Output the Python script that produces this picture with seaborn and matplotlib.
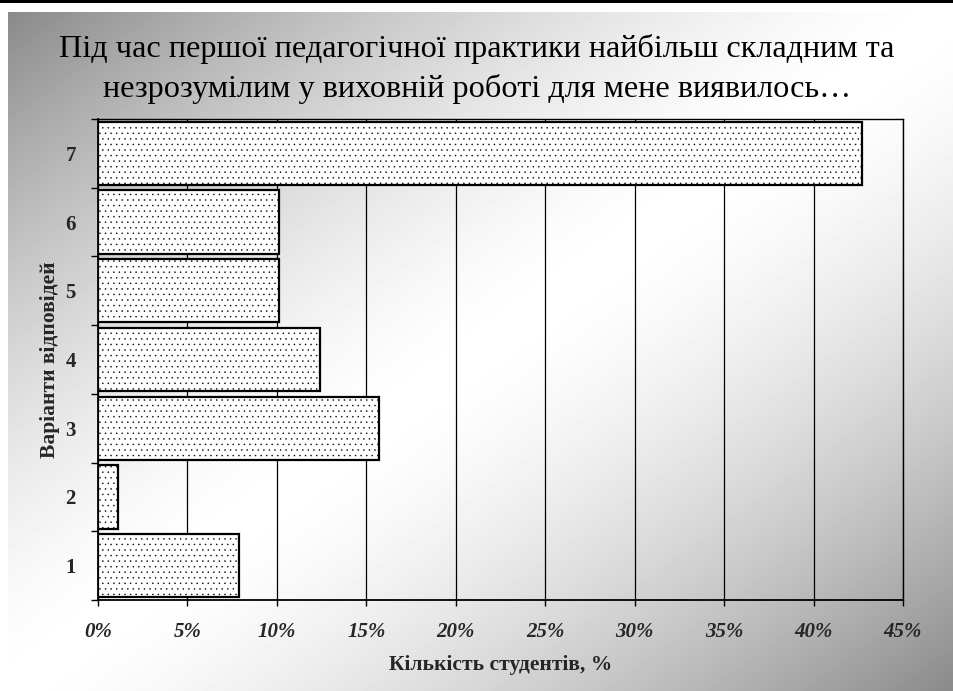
import numpy as np
import pandas as pd
import matplotlib
matplotlib.use('Agg')
import matplotlib.pyplot as plt
from matplotlib.patches import Rectangle
import seaborn as sns

categories = ['7', '6', '5', '4', '3', '2', '1']
values = [42.7, 10.1, 10.1, 12.4, 15.7, 1.1, 7.9]
xticks = [0, 5, 10, 15, 20, 25, 30, 35, 40, 45]
xticklabels = ['0%', '5%', '10%', '15%', '20%', '25%', '30%', '35%', '40%', '45%']
title = ('Під час першої педагогічної практики найбільш складним та\n'
         'незрозумілим у виховній роботі для мене виявилось…')
xlabel = 'Кількість студентів, %'
ylabel = 'Варіанти відповідей'

sns.set_theme(style='white')
plt.rcParams['font.family'] = ['Liberation Serif', 'DejaVu Serif']
plt.rcParams['hatch.color'] = '#555555'
plt.rcParams['hatch.linewidth'] = 0.3

W, H = 954, 691
fig = plt.figure(figsize=(W / 100, H / 100), dpi=100)
fig.patch.set_facecolor('white')

# gradient background
bw, bh = 946, 679
bg = fig.add_axes([8 / W, 0, bw / W, bh / H], zorder=0)
yy, xx = np.mgrid[0:bh, 0:bw]
t = (xx / (bw - 1) + yy / (bh - 1)) / 2
v = 1 - 0.46 * np.abs(2 * t - 1) ** 1.5
bg.imshow(v, cmap='gray', vmin=0, vmax=1, aspect='auto', interpolation='bilinear')
bg.axis('off')
fig.add_artist(Rectangle((0, 1 - 3 / H), 1, 3 / H, transform=fig.transFigure,
                         facecolor='black', edgecolor='none'))

ax = fig.add_axes([98 / W, 91 / H, 805 / W, 481 / H], zorder=1)
ax.patch.set_alpha(0)
df = pd.DataFrame({'cat': categories, 'val': values})
sns.barplot(data=df, x='val', y='cat', order=categories, orient='h',
            color='white', saturation=1, edgecolor='black', linewidth=1.6,
            width=0.92, ax=ax)
for p in ax.patches:
    p.set_hatch('...')

ax.set_xlim(0, 45)
ax.set_ylim(6.5, -0.5)
ax.set_axisbelow(True)
ax.xaxis.grid(True, color='black', linewidth=0.9)
ax.yaxis.grid(False)
for s in ax.spines.values():
    s.set_color('black')
    s.set_linewidth(1.0)
ax.spines['left'].set_linewidth(1.3)
ax.spines['bottom'].set_linewidth(1.3)

ax.set_xticks(xticks)
ax.set_xticklabels(xticklabels, fontsize=15, fontweight='bold', fontstyle='italic')
ax.tick_params(axis='x', which='major', bottom=True, length=4, width=1,
               color='black', direction='out', pad=12)
ax.set_yticks(range(len(categories)))
ax.set_yticklabels(categories, fontsize=15, fontweight='bold')
ax.set_yticks(np.arange(-0.5, len(categories), 1.0), minor=True)
ax.tick_params(axis='y', which='major', left=True, length=0, pad=16)
ax.tick_params(axis='y', which='minor', left=True, length=5, width=1,
               color='black', direction='out')

ax.set_xlabel(xlabel, fontsize=15.5, fontweight='bold', labelpad=9)
ax.set_ylabel(ylabel, fontsize=15.5, fontweight='bold', labelpad=4)

fig.text(0.5, 1 - 69 / H, title, ha='center', va='center', fontsize=23.2,
         linespacing=1.42, color='black')

fig.savefig('out.png', dpi=100)
